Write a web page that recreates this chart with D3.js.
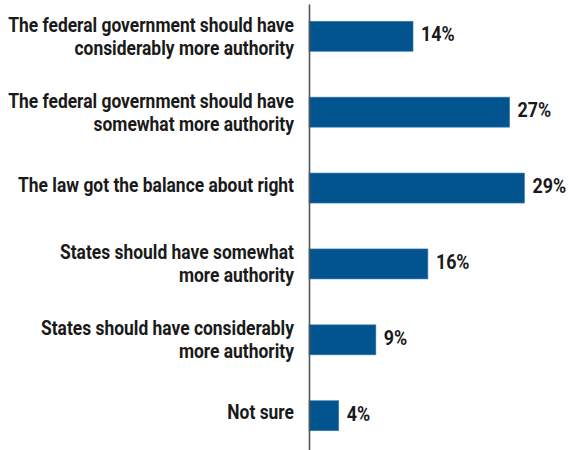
<!DOCTYPE html>
<html>
<head>
<meta charset="utf-8">
<script src="https://cdn.jsdelivr.net/npm/d3@7"></script>
<style>
  html, body { margin: 0; padding: 0; background: #ffffff; }
  svg { display: block; }
  .lbl { font-family: Roboto, "Liberation Sans", sans-serif; font-weight: bold; fill: #1a1a1a; }
</style>
</head>
<body>
<svg id="chart" width="569" height="450"></svg>
<script>
const categories = [
  "The federal government should have considerably more authority",
  "The federal government should have somewhat more authority",
  "The law got the balance about right",
  "States should have somewhat more authority",
  "States should have considerably more authority",
  "Not sure"
];
const labelLines = [
  ["The federal government should have", "considerably more authority"],
  ["The federal government should have", "somewhat more authority"],
  ["The law got the balance about right"],
  ["States should have somewhat", "more authority"],
  ["States should have considerably", "more authority"],
  ["Not sure"]
];
const values = [14, 27, 29, 16, 9, 4];
const valueLabels = ["14%", "27%", "29%", "16%", "9%", "4%"];

const W = 569, H = 450;
const axisX = 309;
const svg = d3.select("#chart");

const x = d3.scaleLinear().domain([0, 30]).range([axisX, axisX + 222.9]);
const y = d3.scaleBand()
  .domain(categories)
  .range([-1.5, 453.5])
  .paddingInner(0.6046)
  .paddingOuter(0.3);

// measure compression factor so the condensed look matches
const FS = 20;
const probe = svg.append("text").attr("class", "lbl").attr("font-size", FS)
  .text("The federal government should have");
const k = 286 / probe.node().getComputedTextLength();
probe.remove();

// bars
svg.selectAll("rect.bar")
  .data(categories)
  .enter().append("rect")
  .attr("class", "bar")
  .attr("x", x(0))
  .attr("y", d => y(d))
  .attr("width", (d, i) => x(values[i]) - x(0))
  .attr("height", y.bandwidth())
  .attr("fill", "#02548f")
  .attr("stroke", "#3a7db5")
  .attr("stroke-width", 0.6);

// value labels
categories.forEach((c, i) => {
  const g = svg.append("g")
    .attr("transform", `translate(${x(values[i]) + 8},${y(c) + y.bandwidth() / 2 + 5}) scale(${k},1)`);
  g.append("text")
    .attr("class", "lbl val")
    .attr("x", 0).attr("y", 0)
    .attr("font-size", 20.5)
    .text(valueLabels[i]);
});

// category labels
const lineH = 23;
categories.forEach((c, i) => {
  const lines = labelLines[i];
  const cy = y(c) + y.bandwidth() / 2;
  const firstBase = lines.length === 1 ? cy + 3.5 : cy - 4.5;
  const g = svg.append("g").attr("transform", `translate(294,0) scale(${k},1)`);
  const t = g.append("text")
    .attr("class", "lbl")
    .attr("text-anchor", "end")
    .attr("font-size", FS);
  lines.forEach((ln, j) => {
    t.append("tspan")
      .attr("x", 0)
      .attr("y", firstBase + j * lineH)
      .text(ln);
  });
});

// axis line
const axis = d3.axisLeft(d3.scaleLinear().domain([0, 1]).range([450, 4])).ticks(0).tickSizeOuter(0);
const ga = svg.append("g").attr("transform", `translate(${axisX},0)`).call(axis);
ga.select(".domain").attr("stroke", "#555555").attr("stroke-width", 1.6);
ga.selectAll(".tick").remove();
</script>
</body>
</html>
